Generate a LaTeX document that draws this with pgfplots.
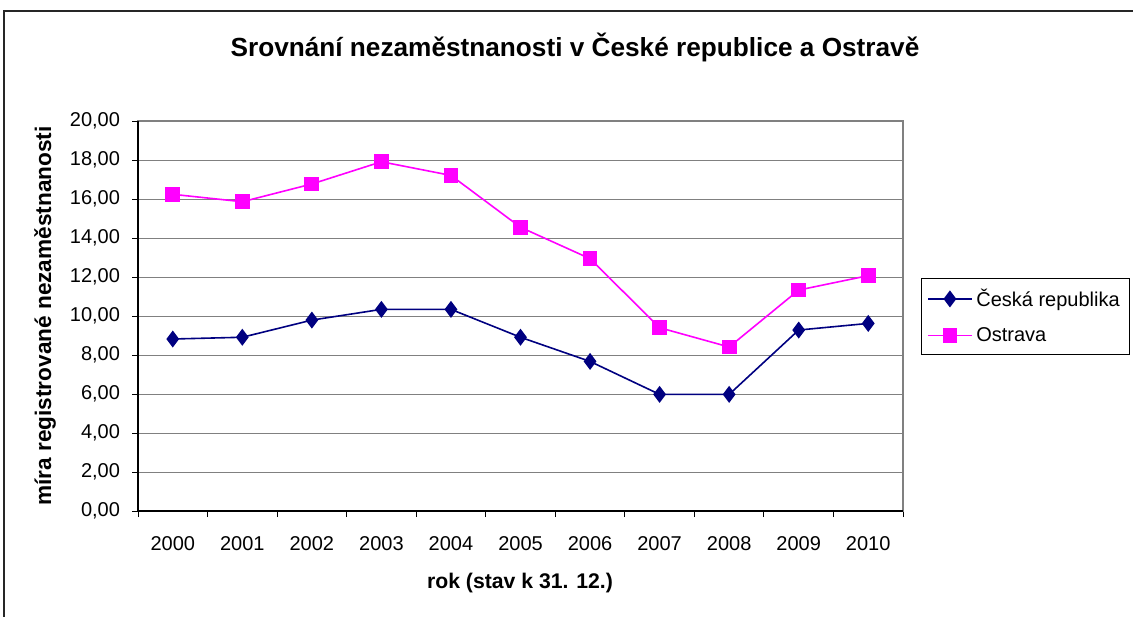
\documentclass[border=0pt]{standalone}
\usepackage{pgfplots}
\pgfplotsset{compat=1.18}
\usepackage{fontspec}
\setmainfont{Liberation Sans}
\definecolor{navyline}{HTML}{000080}
\definecolor{pinkline}{HTML}{FF00FF}
\definecolor{gridgray}{HTML}{808080}

\begin{document}
\begin{tikzpicture}[x=0.5pt,y=0.5pt]
% outer chart frame (coordinates in pixels of the reference)
\draw[line width=1.1pt, black!85] (4,-30) -- (4,605) -- (1160,605);
\node[font=\bfseries\fontsize{13.1}{15}\selectfont] at (575,569)
  {Srovnání nezaměstnanosti v České republice a Ostravě};
\node[font=\bfseries\fontsize{11.3}{13}\selectfont, rotate=90] at (45,300)
  {míra registrované nezaměstnanosti};
\node[font=\bfseries\fontsize{10.6}{12}\selectfont] at (520,33)
  {rok (stav k 31. 12.)};

\begin{axis}[
    at={(69pt,52.5pt)},
    anchor=south west,
    scale only axis,
    width=382.5pt,
    height=195pt,
    xmin=-0.5, xmax=10.5,
    ymin=0, ymax=20,
    xtick={0,1,2,3,4,5,6,7,8,9,10},
    xticklabels={2000,2001,2002,2003,2004,2005,2006,2007,2008,2009,2010},
    minor xtick={-0.5,0.5,1.5,2.5,3.5,4.5,5.5,6.5,7.5,8.5,9.5,10.5},
    major x tick style={draw=none},
    xtick pos=lower,
    ytick pos=left,
    ytick={0,2,4,6,8,10,12,14,16,18,20},
    ymajorgrids=true,
    grid style={gridgray, line width=0.5pt},
    tick align=outside,
    major tick length=3pt,
    minor tick length=3pt,
    tick style={black, line width=0.5pt},
    axis line style={gridgray, line width=0.6pt},
    ticklabel style={font=\fontsize{10}{12}\selectfont},
    x tick label style={yshift=-6pt},
    y tick label style={xshift=-2.5pt},
    yticklabel style={/pgf/number format/.cd, fixed, fixed zerofill,
        precision=2, use comma, assume math mode=true},
    legend style={
        at={(axis description cs:1.0235,0.597)},
        anchor=north west,
        draw=black,
        line width=0.5pt,
        font=\fontsize{10}{12}\selectfont,
        row sep=5pt,
        inner sep=3pt,
        legend cell align=left
    },
    legend image code/.code={
        \draw[mark repeat=2, mark phase=2]
        plot coordinates {(0cm,0cm) (0.38cm,0cm) (0.76cm,0cm)};
    },
]

% Česká republika
\addplot[navyline, line width=0.8pt, mark=diamond*, mark size=3.6pt,
    mark options={solid, fill=navyline}]
coordinates {
(0,8.82) (1,8.91) (2,9.79) (3,10.34) (4,10.34) (5,8.91)
(6,7.67) (7,5.98) (8,5.98) (9,9.28) (10,9.62)
};
\addlegendentry{Česká republika}

% Ostrava
\addplot[pinkline, line width=0.8pt, mark=square*, mark size=3.3pt,
    mark options={solid, fill=pinkline}]
coordinates {
(0,16.24) (1,15.86) (2,16.77) (3,17.91) (4,17.21) (5,14.55)
(6,12.94) (7,9.40) (8,8.41) (9,11.33) (10,12.07)
};
\addlegendentry{Ostrava}

\end{axis}
\draw[black, line width=0.6pt] (138,495) -- (138,105) -- (903,105);

\pgfresetboundingbox
\path[use as bounding box] (0,0) rectangle (1133,616);
\end{tikzpicture}
\end{document}
